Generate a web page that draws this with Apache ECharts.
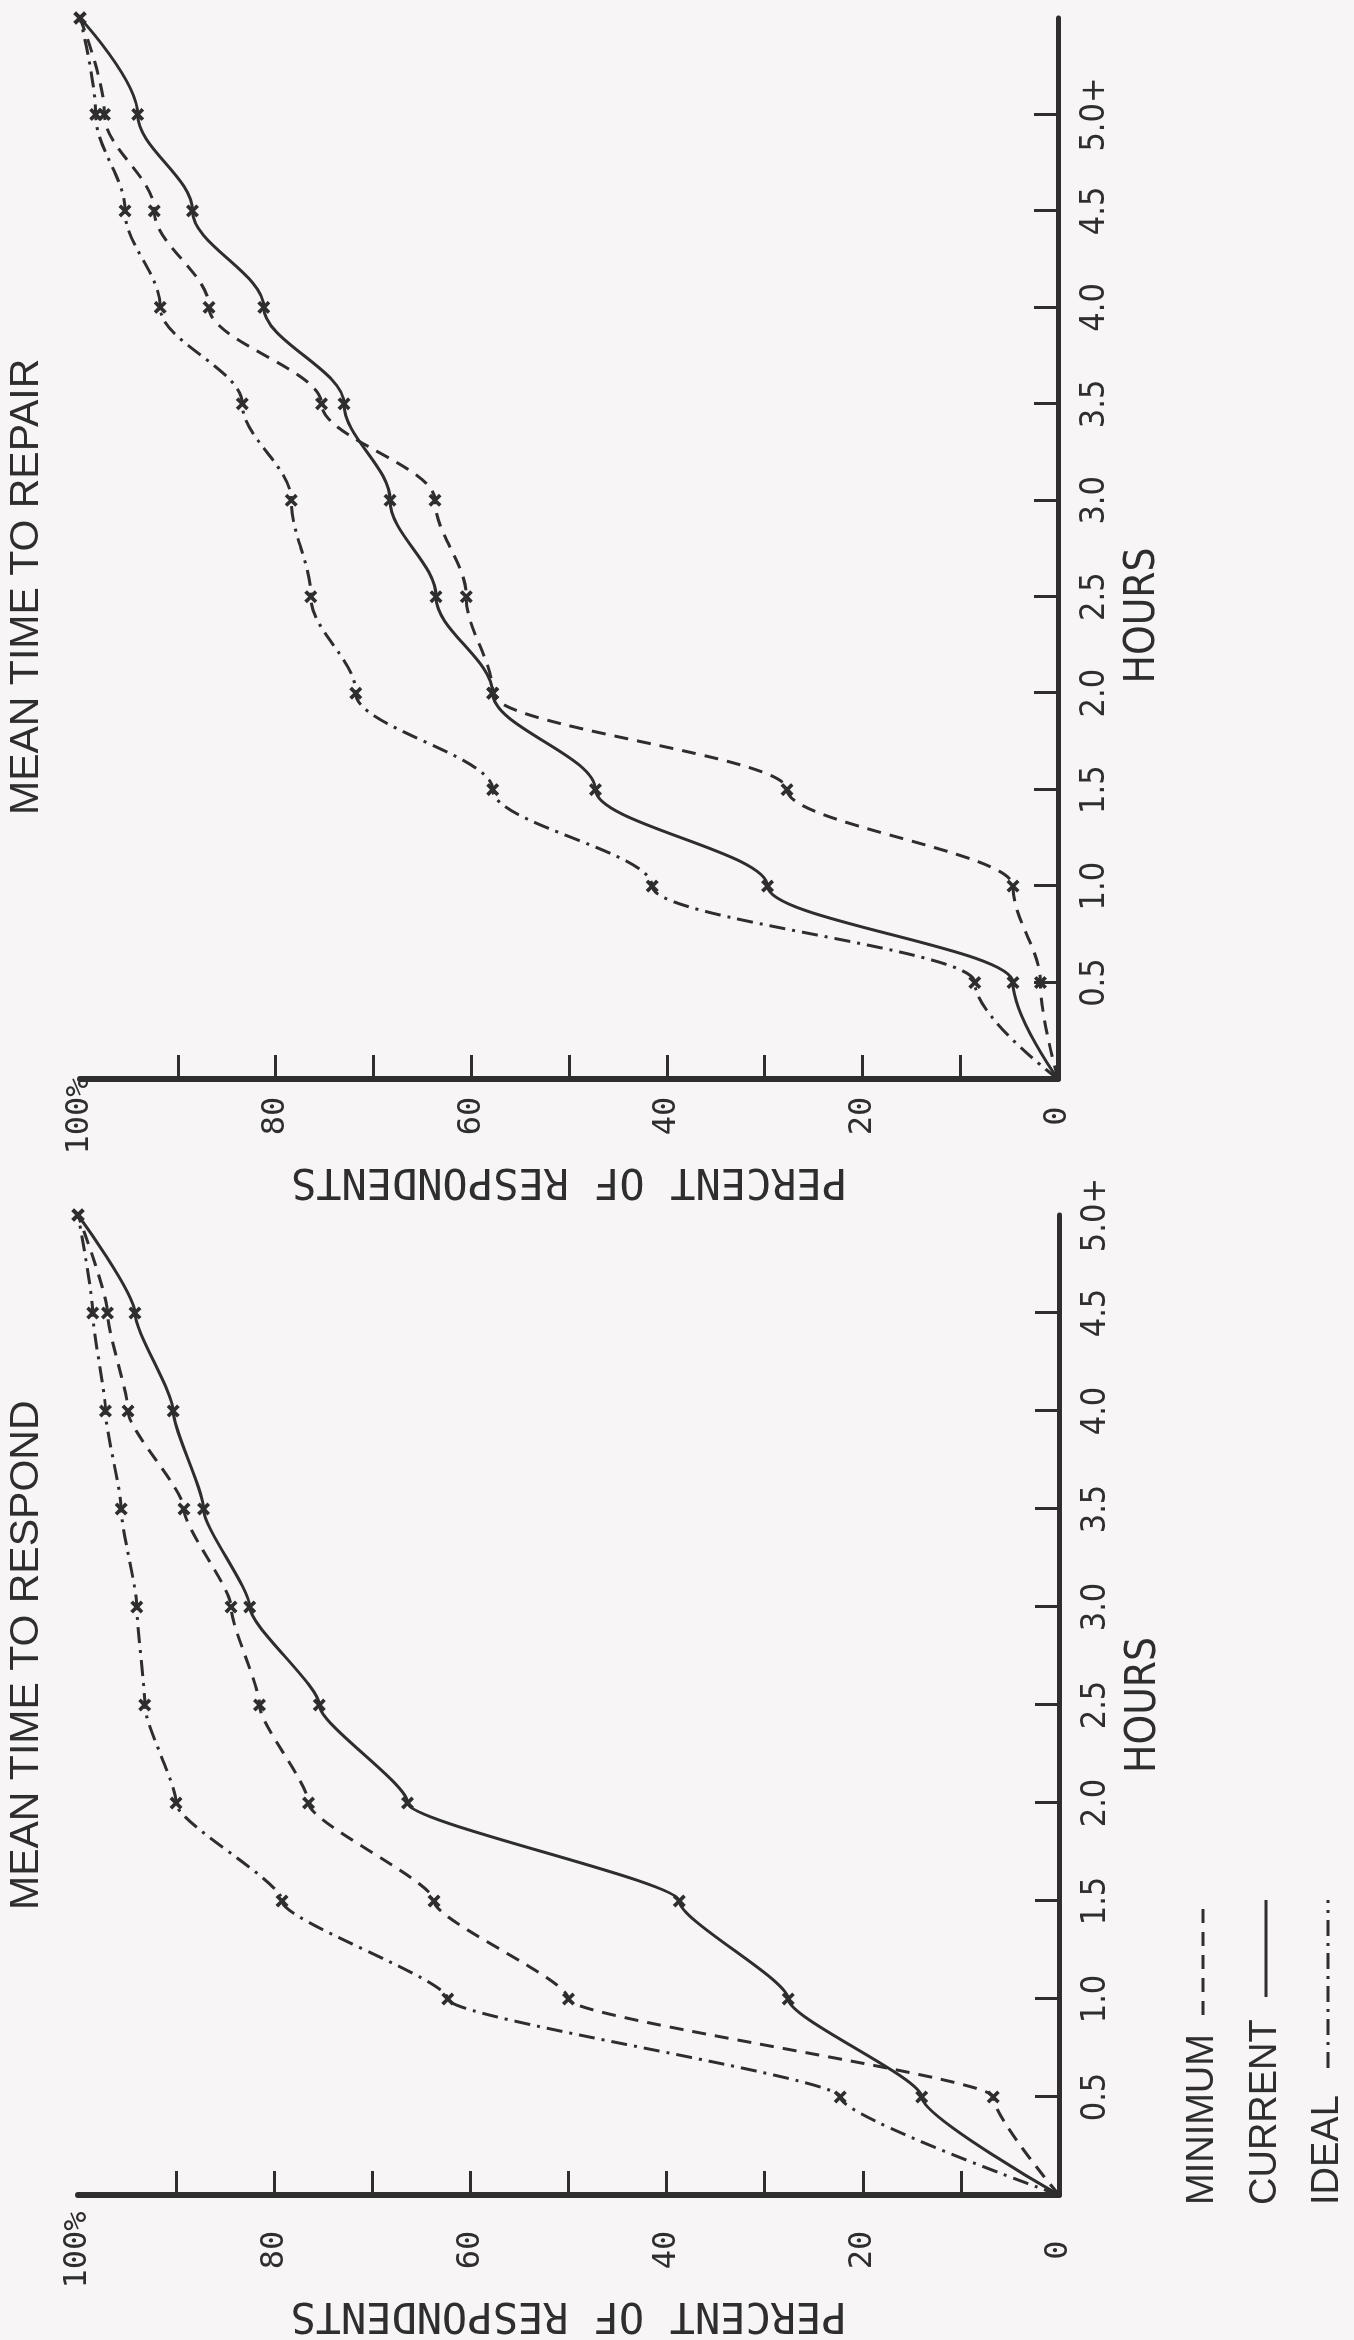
<!DOCTYPE html>
<html><head><meta charset="utf-8">
<script src="https://cdn.jsdelivr.net/npm/echarts@6/dist/echarts.min.js"></script>
<style>
html,body{margin:0;padding:0;width:1354px;height:2340px;overflow:hidden;background:#f7f5f5;}
#chart{position:absolute;left:0;top:2340px;width:2340px;height:1354px;transform-origin:0 0;transform:rotate(-90deg);}
</style></head><body><div id="chart"></div>
<script>
// ---- data ----
const respondHours   = [0, 0.5, 1.0, 1.5, 2.0, 2.5, 3.0, 3.5, 4.0, 4.5, 5.0];
const respondMinimum = [0, 6.7, 50.0, 63.7, 76.5, 81.5, 84.4, 89.2, 94.9, 97.0, 100];
const respondCurrent = [0, 14.0, 27.6, 38.7, 66.4, 75.4, 82.5, 87.2, 90.3, 94.2, 100];
const respondIdeal   = [0, 22.3, 62.3, 79.2, 90.0, 93.2, 94.0, 95.6, 97.2, 98.5, 100];

const repairHours   = [0, 0.5, 1.0, 1.5, 2.0, 2.5, 3.0, 3.5, 4.0, 4.5, 5.0, 5.5];
const repairMinimum = [0, 1.8, 4.6, 27.7, 57.8, 60.5, 63.7, 75.3, 86.8, 92.4, 97.5, 100];
const repairCurrent = [0, 4.6, 29.7, 47.3, 57.8, 63.6, 68.3, 73.0, 81.2, 88.5, 94.1, 100];
const repairIdeal   = [0, 8.5, 41.5, 57.8, 71.8, 76.4, 78.4, 83.4, 91.8, 95.4, 98.4, 100];

const respondHourTicks = [0.5, 1.0, 1.5, 2.0, 2.5, 3.0, 3.5, 4.0, 4.5];
const repairHourTicks  = [0.5, 1.0, 1.5, 2.0, 2.5, 3.0, 3.5, 4.0, 4.5, 5.0];
const hourLabels       = [0.5, 1.0, 1.5, 2.0, 2.5, 3.0, 3.5, 4.0, 4.5, 5.0];
const percentTicks     = [10, 20, 30, 40, 50, 60, 70, 80, 90];
const percentLabels    = [0, 20, 40, 60, 80, 100];

const titles = ['MEAN TIME TO RESPOND', 'MEAN TIME TO REPAIR'];
const legendNames = ['MINIMUM', 'CURRENT', 'IDEAL'];

// ---- styles ----
const INK = '#2e2e2e';
const XMARK = 'path://M2,0 L5,3 L8,0 L10,2 L7,5 L10,8 L8,10 L5,7 L2,10 L0,8 L3,5 L0,2 Z';
const DASH = [14, 9];
const DASHDOT = [16, 7, 3, 7];
const NARROW = '"Liberation Sans Narrow","DejaVu Sans Condensed","Liberation Sans",sans-serif';
const MONO = '"DejaVu Sans Mono","Liberation Mono",monospace';
const SANS = '"Liberation Sans","DejaVu Sans",sans-serif';

function pts(hours, vals) {
  return hours.map((h, i) => i === 0 ? {value: [h, vals[i]], symbol: 'none'} : [h, vals[i]]);
}

function xAxisDef(grid, max, ticks, namePad) {
  return {
    type: 'value', gridIndex: grid, min: 0, max: max, interval: 0.5,
    axisLine: {show: true, onZero: false, lineStyle: {color: INK, width: 5}},
    axisTick: {show: true, inside: true, length: 24, lineStyle: {color: INK, width: 3}, customValues: ticks},
    axisLabel: {show: true, customValues: hourLabels, margin: 20, color: INK, fontSize: 34, fontFamily: NARROW,
      formatter: v => v === 5 ? '5.0+' : Number(v).toFixed(1)},
    splitLine: {show: false},
    name: 'HOURS', nameLocation: 'middle', nameGap: 64,
    nameTextStyle: {color: INK, fontSize: 42, fontFamily: NARROW, padding: namePad}
  };
}
function yAxisDef(grid, margin, gap) {
  return {
    type: 'value', gridIndex: grid, min: 0, max: 100, interval: 10,
    axisLine: {show: true, onZero: false, lineStyle: {color: INK, width: 6}},
    axisTick: {show: true, inside: true, length: 24, lineStyle: {color: INK, width: 3}, customValues: percentTicks},
    axisLabel: {show: true, customValues: percentLabels, margin: margin, align: 'center', color: INK,
      fontSize: 32, fontFamily: MONO, formatter: v => v === 100 ? '100%' : String(v)},
    splitLine: {show: false},
    name: 'PERCENT OF RESPONDENTS', nameLocation: 'middle', nameRotate: 90, nameGap: gap,
    nameTextStyle: {color: INK, fontSize: 42, fontFamily: MONO}
  };
}
function line(name, grid, hours, vals, type, smooth) {
  return {
    name: name, type: 'line', xAxisIndex: grid, yAxisIndex: grid,
    data: pts(hours, vals), smooth: smooth, smoothMonotone: 'x',
    symbol: XMARK, symbolSize: 13, itemStyle: {color: INK},
    lineStyle: {color: INK, width: 3, type: type}, z: 3
  };
}

function legendText(txt, y) {
  return {type: 'text', x: 135, y: y, z: 10, style: {text: txt, fill: INK, font: '38px ' + SANS, verticalAlign: 'middle', align: 'left'}};
}
function legendLine(x1, y, dash) {
  const st = {stroke: INK, lineWidth: 3};
  if (dash) st.lineDash = dash;
  return {type: 'line', z: 10, shape: {x1: x1, y1: y, x2: 440, y2: y}, style: st};
}

const chart = echarts.init(document.getElementById('chart'), null, {renderer: 'canvas'});
chart.setOption({
  animation: false,
  backgroundColor: '#f7f5f5',
  title: [
    {text: titles[0], left: 430, top: 6, padding: 0, textStyle: {color: INK, fontSize: 41, fontWeight: 'normal', fontFamily: SANS}},
    {text: titles[1], left: 1525, top: 6, padding: 0, textStyle: {color: INK, fontSize: 41, fontWeight: 'normal', fontFamily: SANS}}
  ],
  grid: [
    {left: 145, top: 78, width: 980, height: 981},
    {left: 1261, top: 80, width: 1061, height: 978}
  ],
  xAxis: [xAxisDef(0, 5, respondHourTicks, 0), xAxisDef(1, 5.5, repairHourTicks, [0, 134, 0, 0])],
  yAxis: [yAxisDef(0, 55, 98), yAxisDef(1, 37, 72)],
  series: [
    line(legendNames[0], 0, respondHours, respondMinimum, DASH, 0.2),
    line(legendNames[1], 0, respondHours, respondCurrent, 'solid', 0.2),
    line(legendNames[2], 0, respondHours, respondIdeal, DASHDOT, 0.2),
    line(legendNames[0], 1, repairHours, repairMinimum, DASH, 0.35),
    line(legendNames[1], 1, repairHours, repairCurrent, 'solid', 0.35),
    line(legendNames[2], 1, repairHours, repairIdeal, DASHDOT, 0.35)
  ],
  graphic: [
    legendText(legendNames[0], 1203), legendLine(325, 1203, DASH),
    legendText(legendNames[1], 1266), legendLine(343, 1266, null),
    legendText(legendNames[2], 1328), legendLine(272, 1328, DASHDOT)
  ]
});
</script></body></html>
